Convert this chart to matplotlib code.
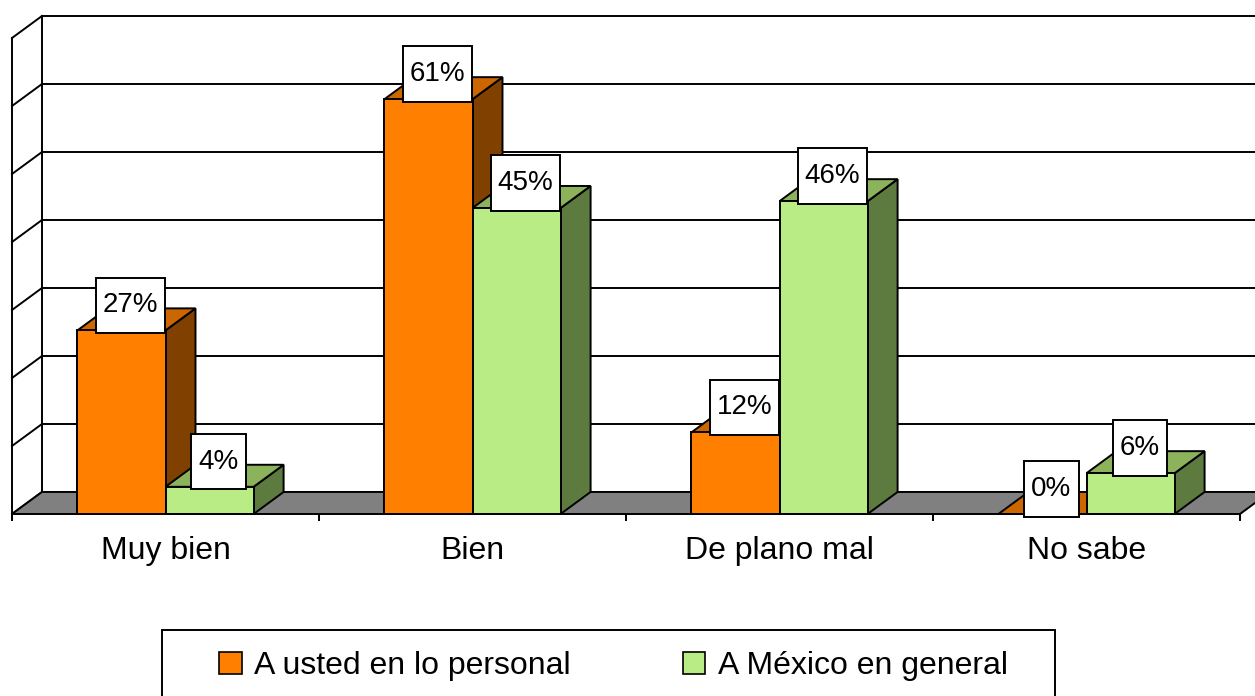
import numpy as np
import matplotlib
matplotlib.use('Agg')
import matplotlib.pyplot as plt
from matplotlib.patches import Polygon, Patch, Rectangle
from matplotlib.path import Path

plt.rcParams['font.family'] = ['Liberation Sans', 'DejaVu Sans']

categories = ['Muy bien', 'Bien', 'De plano mal', 'No sabe']
personal = [27, 61, 12, 0]
mexico = [4, 45, 46, 6]
series_names = ['A usted en lo personal', 'A México en general']

# front / top / side shades for the fake 3d look
orange = ('#FF8000', '#CC6600', '#7F4000')
green = ('#B9EC84', '#8CB35C', '#5D7A3F')

dx, dy = 0.0977, 3.24    # depth offset in data units (cat, %)
bar_w = 0.287
lw = 1.4
ymax = 70

fig = plt.figure(figsize=(12.55, 6.96), dpi=100)
ax = fig.add_axes([12/1255, (696-514)/696, 1228/1255, 476/696])
ax.set_xlim(0, 4)
ax.set_ylim(0, ymax)
for s in ax.spines.values():
    s.set_visible(False)

n = len(categories)

# back wall gridlines + left wall
for g in range(0, ymax + 1, 10):
    ax.plot([dx, n + dx + 0.2], [g + dy, g + dy], color='black', lw=lw, clip_on=False, zorder=1)
    ax.plot([0, dx], [g, g + dy], color='black', lw=lw, clip_on=False, zorder=1)
ax.plot([0, 0], [-0.9, ymax], color='black', lw=lw, clip_on=False, zorder=1)
ax.plot([dx, dx], [dy, ymax + dy], color='black', lw=lw, clip_on=False, zorder=1)

# floor
floor = Polygon([(0, 0), (n, 0), (n + dx, dy), (dx, dy)], closed=True,
                facecolor='#808080', edgecolor='black', lw=lw, clip_on=False, zorder=2)
ax.add_patch(floor)


def bar3d(x0, v, cols):
    front, top, side = cols
    x1 = x0 + bar_w
    ax.add_patch(Polygon([(x1, 0), (x1 + dx, dy), (x1 + dx, v + dy), (x1, v)],
                         facecolor=side, edgecolor='black', lw=lw, clip_on=False, zorder=3))
    ax.add_patch(Polygon([(x0, v), (x1, v), (x1 + dx, v + dy), (x0 + dx, v + dy)],
                         facecolor=top, edgecolor='black', lw=lw, clip_on=False, zorder=3))
    ax.add_patch(Polygon([(x0, 0), (x1, 0), (x1, v), (x0, v)],
                         facecolor=front, edgecolor='black', lw=lw, clip_on=False, zorder=3))


def label_box(x0, y0, width, height, mutation_size):
    # taller than wide padding, like the excel label boxes
    px = 0.25 * mutation_size
    py = 0.53 * mutation_size
    x0, y0 = x0 - px, y0 - py
    x1, y1 = x0 + width + 2 * px, y0 + height + 2 * py
    return Path([(x0, y0), (x1, y0), (x1, y1), (x0, y1), (x0, y0)], closed=True)


labels = []
for i in range(n):
    xs = i + 0.5 - bar_w
    for j, (vals, cols) in enumerate([(personal, orange), (mexico, green)]):
        x0 = xs + j * bar_w
        bar3d(x0, vals[i], cols)
        labels.append((x0 + bar_w / 2 + dx * 0.3, vals[i] + 3.7, '%d%%' % vals[i]))

for x, y, t in labels:
    ax.text(x, y, t, ha='center', va='center', fontsize=20, zorder=5,
            bbox=dict(boxstyle=label_box, facecolor='white', edgecolor='black', lw=lw))

# x axis ticks and category labels
ax.set_yticks([])
ax.set_xticks(range(n + 1))
ax.set_xticklabels([])
ax.tick_params(axis='x', which='major', length=5, width=lw, direction='out')
ax.set_xticks(np.arange(n) + 0.5, minor=True)
ax.set_xticklabels(categories, minor=True, fontsize=23)
ax.tick_params(axis='x', which='minor', length=0, pad=16)

# legend
handles = [Patch(facecolor=orange[0], edgecolor='black', lw=1.2),
           Patch(facecolor=green[0], edgecolor='black', lw=1.2)]
fig.legend(handles, series_names, ncol=2, frameon=False, fontsize=23,
           loc='center', bbox_to_anchor=(0.489, 0.043),
           handlelength=0.7, handleheight=0.7, handletextpad=0.4, columnspacing=3.5)
fig.patches.append(Rectangle((162/1255, -0.05), (1055-162)/1255, (696-630)/696 + 0.05,
                             transform=fig.transFigure, fill=False, edgecolor='black', lw=lw))

fig.savefig('out.png', dpi=100)
